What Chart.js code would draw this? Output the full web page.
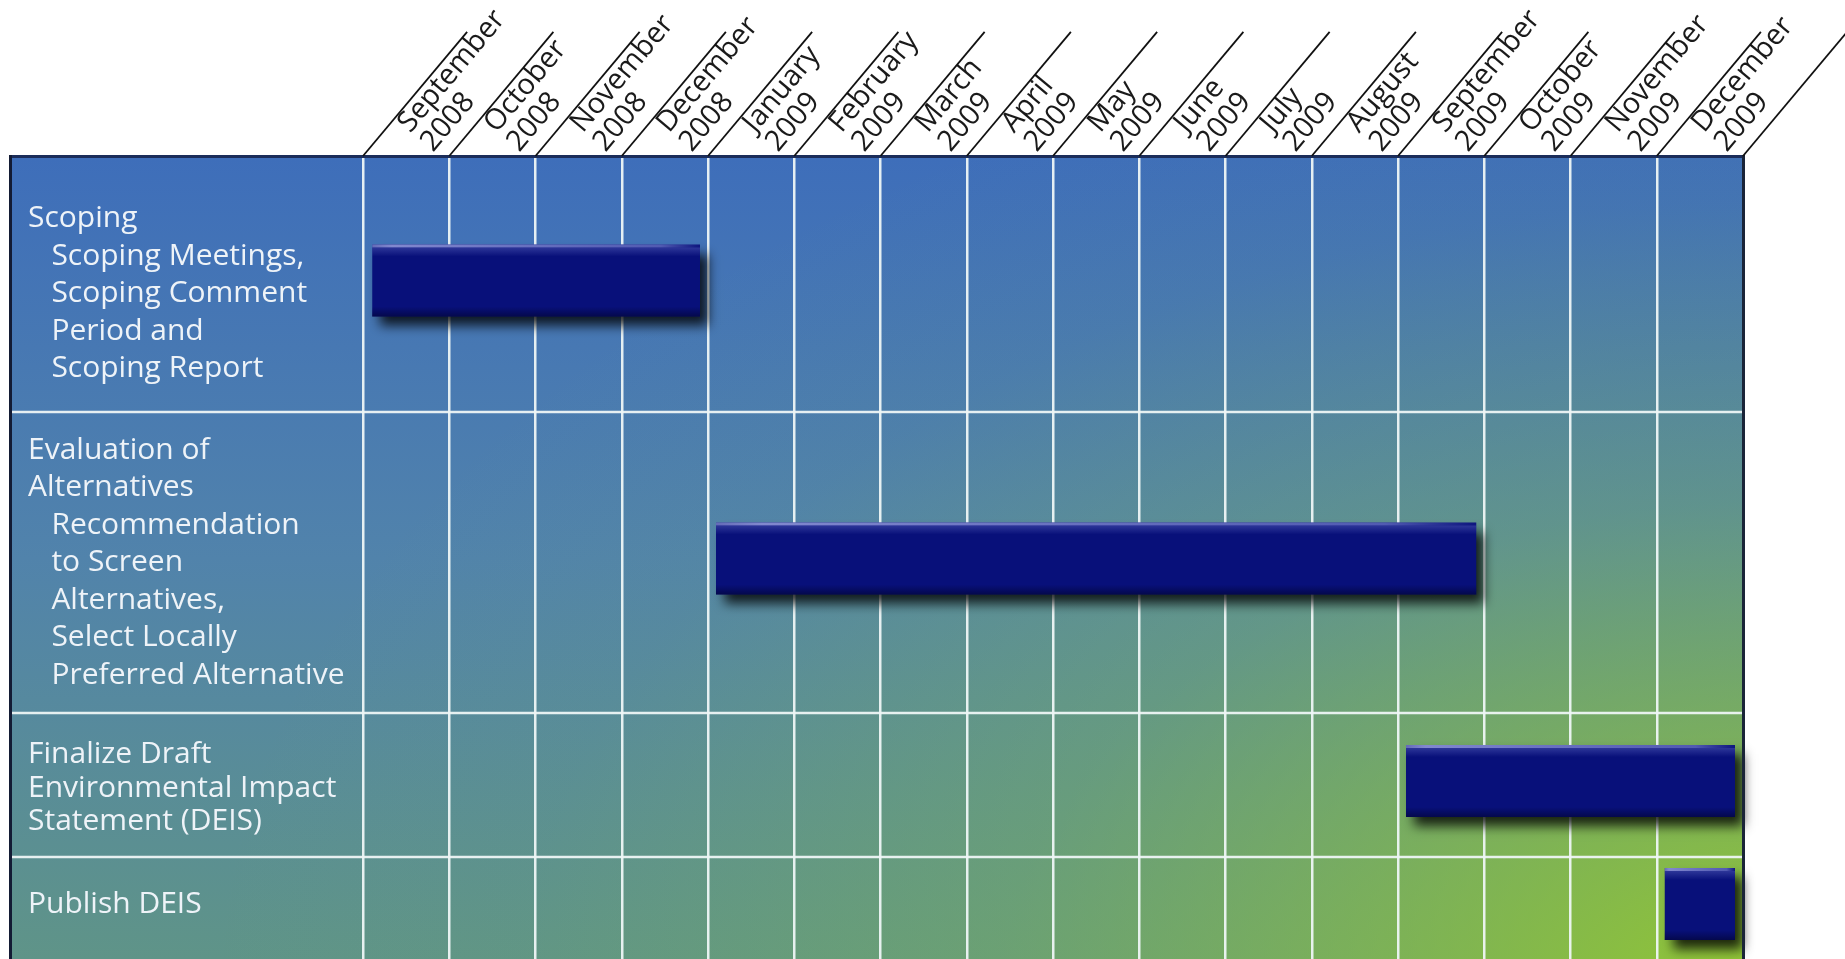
<!DOCTYPE html>
<html lang="en">
<head>
<meta charset="UTF-8">
<title>DEIS Schedule</title>
<script src="https://cdn.jsdelivr.net/npm/chart.js@4.4.1/dist/chart.umd.min.js"></script>
<style>
    html, body { margin: 0; padding: 0; background: #fff; overflow: hidden; }
    #wrap { width: 1845px; height: 959px; }
</style>
</head>
<body>
<div id="wrap"><canvas id="gantt" width="1845" height="959"></canvas></div>
<script>
    // months across the top
    const monthNames = ['September', 'October', 'November', 'December', 'January', 'February', 'March',
        'April', 'May', 'June', 'July', 'August', 'September', 'October', 'November', 'December'];
    const monthYears = ['2008', '2008', '2008', '2008', '2009', '2009', '2009', '2009',
        '2009', '2009', '2009', '2009', '2009', '2009', '2009', '2009'];

    // tasks, one per row (indented lines are the sub items)
    const taskLabels = [
        ['Scoping', '   Scoping Meetings,', '   Scoping Comment', '   Period and', '   Scoping Report'],
        ['Evaluation of', 'Alternatives', '   Recommendation', '   to Screen', '   Alternatives,',
            '   Select Locally', '   Preferred Alternative'],
        ['Finalize Draft', 'Environmental Impact', 'Statement (DEIS)'],
        ['Publish DEIS']
    ];
    // month index where each task starts and ends (0 = September 2008)
    const taskStart = [0, 4, 12, 15];
    const taskEnd = [4, 13, 16, 16];

    // ---- layout ----
    const FRAME_LEFT = 10;
    const LABEL_X = 28;
    const PLOT_LEFT = 363;
    const PLOT_RIGHT = 1743;
    const PLOT_TOP = 157;
    const rowHeights = [255, 301, 144, 102];   // rows are as tall as their text needs
    const labelNudge = [9, 0, 3, -4];
    const BAR_INSET = 8;
    const BAR_LIFT = 4;
    const HEADER_ANGLE = 50;
    const FONT = '"Open Sans", "DejaVu Sans", sans-serif';

    const rowEdges = [0];
    rowHeights.forEach(h => rowEdges.push(rowEdges[rowEdges.length - 1] + h));
    const rowCenters = rowHeights.map((h, i) => rowEdges[i] + h / 2);
    const totalHeight = rowEdges[rowEdges.length - 1];

    function paintBackground(ctx, area) {
        const x0 = FRAME_LEFT, y0 = area.top, x1 = area.right, y1 = area.bottom;
        ctx.fillStyle = '#ffffff';
        ctx.fillRect(0, 0, ctx.canvas.width, ctx.canvas.height);

        const g = ctx.createLinearGradient(0, y0, 0, y1);
        g.addColorStop(0, '#3e6eba');
        g.addColorStop(0.5, '#5183ab');
        g.addColorStop(1, '#5f9488');
        ctx.fillStyle = g;
        ctx.fillRect(x0, y0, x1 - x0, y1 - y0);

        // yellow-green glow from the lower right corner
        ctx.save();
        ctx.beginPath();
        ctx.rect(x0, y0, x1 - x0, y1 - y0);
        ctx.clip();
        ctx.translate(1800, 1000);
        ctx.scale(1.6, 1);
        const r = ctx.createRadialGradient(0, 0, 0, 0, 0, 1000);
        r.addColorStop(0, 'rgba(154,206,38,0.92)');
        r.addColorStop(0.15, 'rgba(150,202,45,0.72)');
        r.addColorStop(0.5, 'rgba(140,195,60,0.28)');
        r.addColorStop(0.8, 'rgba(140,195,60,0.05)');
        r.addColorStop(1, 'rgba(140,195,60,0)');
        ctx.fillStyle = r;
        ctx.fillRect(-1200, -1000, 1200, 1000);
        ctx.restore();
    }

    const ganttDecor = {
        id: 'ganttDecor',
        beforeDraw(chart) {
            paintBackground(chart.ctx, chart.chartArea);
        },
        beforeDatasetsDraw(chart) {
            const ctx = chart.ctx, y = chart.scales.y, area = chart.chartArea;
            // row separators run through the label column too
            ctx.save();
            ctx.strokeStyle = 'rgba(238,246,246,0.95)';
            ctx.lineWidth = 2.5;
            rowEdges.slice(1, -1).forEach(v => {
                const py = Math.round(y.getPixelForValue(v));
                ctx.beginPath();
                ctx.moveTo(FRAME_LEFT, py);
                ctx.lineTo(area.right, py);
                ctx.stroke();
            });
            ctx.restore();

            ctx.save();
            ctx.shadowColor = 'rgba(0,0,0,0.8)';
            ctx.shadowBlur = 11;
            ctx.shadowOffsetX = 8;
            ctx.shadowOffsetY = 9;
        },
        afterDatasetsDraw(chart) {
            const ctx = chart.ctx;
            ctx.restore();
            // glossy edge on each bar
            chart.getDatasetMeta(0).data.forEach(el => {
                const p = el.getProps(['x', 'y', 'base', 'height'], true);
                const left = Math.min(p.x, p.base) + BAR_INSET;
                const right = Math.max(p.x, p.base) - BAR_INSET;
                const top = p.y - p.height / 2 + BAR_INSET;
                const bottom = p.y + p.height / 2 - BAR_INSET;
                const w = right - left;

                const hg = ctx.createLinearGradient(left, 0, right, 0);
                hg.addColorStop(0, 'rgba(175,180,235,0.55)');
                hg.addColorStop(0.06, 'rgba(160,166,228,0.8)');
                hg.addColorStop(0.88, 'rgba(130,140,215,0.6)');
                hg.addColorStop(1, 'rgba(120,130,210,0.05)');
                ctx.fillStyle = hg;
                ctx.fillRect(left, top, w, 3);

                const vg = ctx.createLinearGradient(0, top + 3, 0, top + 12);
                vg.addColorStop(0, 'rgba(90,100,190,0.45)');
                vg.addColorStop(1, 'rgba(90,100,190,0)');
                ctx.fillStyle = vg;
                ctx.fillRect(left, top + 3, w, 9);

                const bg = ctx.createLinearGradient(0, bottom - 10, 0, bottom);
                bg.addColorStop(0, 'rgba(0,0,40,0)');
                bg.addColorStop(1, 'rgba(0,0,30,0.5)');
                ctx.fillStyle = bg;
                ctx.fillRect(left, bottom - 10, w, 10);
            });
        },
        afterDraw(chart) {
            const ctx = chart.ctx, x = chart.scales.x, area = chart.chartArea;
            ctx.save();
            // frame
            ctx.fillStyle = '#1b2d5a';
            ctx.fillRect(FRAME_LEFT, area.top - 2, area.right - FRAME_LEFT + 1, 3);
            ctx.fillStyle = '#131b34';
            ctx.fillRect(FRAME_LEFT - 1, area.top - 2, 3, area.bottom - area.top + 2);
            ctx.fillStyle = '#1a2438';
            ctx.fillRect(area.right - 1, area.top - 2, 3, area.bottom - area.top + 2);

            // slanted header dividers
            const a = HEADER_ANGLE * Math.PI / 180, len = 162;
            ctx.strokeStyle = '#111';
            ctx.lineWidth = 1.8;
            for (let k = 0; k <= monthNames.length; k++) {
                const px = x.getPixelForValue(k);
                ctx.beginPath();
                ctx.moveTo(px, area.top - 1);
                ctx.lineTo(px + len * Math.cos(a), area.top - 1 - len * Math.sin(a));
                ctx.stroke();
            }
            ctx.restore();
        }
    };

    new Chart(document.getElementById('gantt'), {
        type: 'bar',
        data: {
            datasets: [{
                data: taskLabels.map((t, i) => ({ x: [taskStart[i], taskEnd[i]], y: rowCenters[i] - BAR_LIFT })),
                backgroundColor: '#08107a',
                borderWidth: 0,
                barThickness: 72 + 2 * BAR_INSET,
                inflateAmount: -BAR_INSET,
                clip: false
            }]
        },
        options: {
            indexAxis: 'y',
            responsive: false,
            animation: false,
            devicePixelRatio: 1,
            layout: { padding: { left: LABEL_X, right: 1845 - PLOT_RIGHT, top: 0, bottom: 0 } },
            plugins: { legend: { display: false }, tooltip: { enabled: false } },
            scales: {
                x: {
                    type: 'linear',
                    position: 'top',
                    min: 0,
                    max: monthNames.length,
                    offset: false,
                    grid: { color: 'rgba(238,246,246,0.95)', lineWidth: 2.5, drawTicks: false },
                    border: { display: false },
                    ticks: {
                        stepSize: 1,
                        autoSkip: false,
                        minRotation: HEADER_ANGLE,
                        maxRotation: HEADER_ANGLE,
                        padding: 0,
                        color: '#1a1a1a',
                        font: { family: FONT, size: 29, lineHeight: 1.02 },
                        callback: v => (v >= 1 ? [monthNames[v - 1], monthYears[v - 1]] : '')
                    },
                    afterFit: s => { s.height = PLOT_TOP; s.paddingLeft = 0; s.paddingRight = 0; }
                },
                y: {
                    type: 'linear',
                    position: 'left',
                    reverse: true,
                    offset: false,
                    min: 0,
                    max: totalHeight,
                    grid: { display: false },
                    border: { display: false },
                    afterBuildTicks: s => { s.ticks = rowCenters.map((v, i) => ({ value: v + labelNudge[i] })); },
                    ticks: {
                        autoSkip: false,
                        crossAlign: 'far',
                        padding: 0,
                        color: '#eef3f8',
                        font: c => ({ family: FONT, size: 30, lineHeight: c.index === 2 ? 1.13 : 1.25 }),
                        callback: (v, i) => taskLabels[i]
                    },
                    afterFit: s => { s.width = PLOT_LEFT - LABEL_X; s.paddingTop = 0; s.paddingBottom = 0; }
                }
            }
        },
        plugins: [ganttDecor]
    });
</script>
</body>
</html>
